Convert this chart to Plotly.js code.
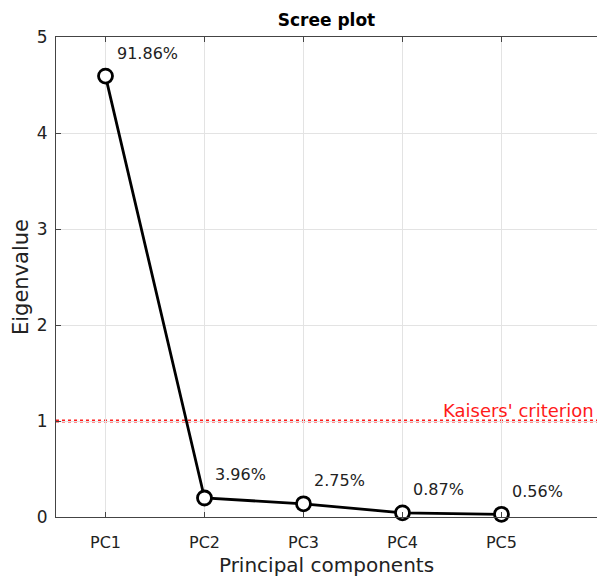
<!DOCTYPE html>
<html>
<head>
<meta charset="utf-8">
<script src="https://cdn.plot.ly/plotly-3.0.1.min.js"></script>
<style>html,body{margin:0;padding:0;background:#fff;}#chart{width:597px;height:579px;}</style>
</head>
<body>
<div id="chart"></div>
<script>
var components = ["PC1", "PC2", "PC3", "PC4", "PC5"];
var positions = [1, 2, 3, 4, 5];
var eigenvalues = [4.593, 0.198, 0.1375, 0.0435, 0.028];
var explained = ["91.86%", "3.96%", "2.75%", "0.87%", "0.56%"];
var kaiserValue = 1;
var kaiserLabel = "Kaisers' criterion";

var FONT = "'DejaVu Sans', sans-serif";

var trace = {
  x: positions,
  y: eigenvalues,
  type: "scatter",
  mode: "lines+markers",
  line: {color: "#000", width: 2.8},
  marker: {size: 14, color: "#fff", line: {color: "#000", width: 2.8}},
  hoverinfo: "none",
  cliponaxis: false
};

var annotations = positions.map(function (p, i) {
  return {
    x: p, y: eigenvalues[i], xref: "x", yref: "y",
    text: explained[i], showarrow: false,
    xanchor: "left", yanchor: "middle",
    xshift: 9, yshift: 23,
    font: {family: FONT, size: 16, color: "#222"}
  };
});
annotations.push({
  x: 1, xref: "paper", y: kaiserValue, yref: "y",
  text: kaiserLabel, showarrow: false,
  xanchor: "right", yanchor: "bottom", xshift: -1, yshift: -2,
  font: {family: FONT, size: 18, color: "#ff1a1a"}
});

var layout = {
  width: 597, height: 579,
  margin: {l: 56, r: 0, t: 37, b: 62},
  paper_bgcolor: "#fff", plot_bgcolor: "#fff",
  font: {family: FONT, color: "#222"},
  showlegend: false,
  title: {text: "<b>Scree plot</b>", x: 0.5, xref: "paper", yref: "container", y: 1 - 20 / 579, yanchor: "middle",
          font: {family: FONT, size: 17, color: "#000"}},
  xaxis: {
    range: [0.5, 5.965], tickvals: positions, ticktext: components,
    showgrid: true, gridcolor: "#e3e3e3", gridwidth: 1,
    showline: true, linecolor: "#444", linewidth: 1, mirror: "allticks",
    ticks: "inside", ticklen: 5, tickcolor: "#444",
    ticklabelstandoff: 11,
    tickfont: {family: FONT, size: 16, color: "#222"},
    zeroline: false,
    title: {text: "Principal components", font: {family: FONT, size: 20, color: "#222"}, standoff: 6}
  },
  yaxis: {
    range: [0, 5], tickvals: [0, 1, 2, 3, 4, 5],
    showgrid: true, gridcolor: "#e3e3e3", gridwidth: 1,
    showline: true, linecolor: "#444", linewidth: 1, mirror: false,
    ticks: "inside", ticklen: 5, tickcolor: "#444",
    ticklabelstandoff: 4,
    tickfont: {family: FONT, size: 17, color: "#222"},
    zeroline: false,
    title: {text: "Eigenvalue", font: {family: FONT, size: 21, color: "#222"}, standoff: 2}
  },
  shapes: [{
    type: "line", xref: "paper", x0: 0, x1: 1, yref: "y", y0: kaiserValue, y1: kaiserValue,
    line: {color: "#ff1a1a", width: 3, dash: "dot"}, layer: "below"
  }],
  annotations: annotations
};

Plotly.newPlot("chart", [trace], layout, {displayModeBar: false, staticPlot: true});
</script>
</body>
</html>
